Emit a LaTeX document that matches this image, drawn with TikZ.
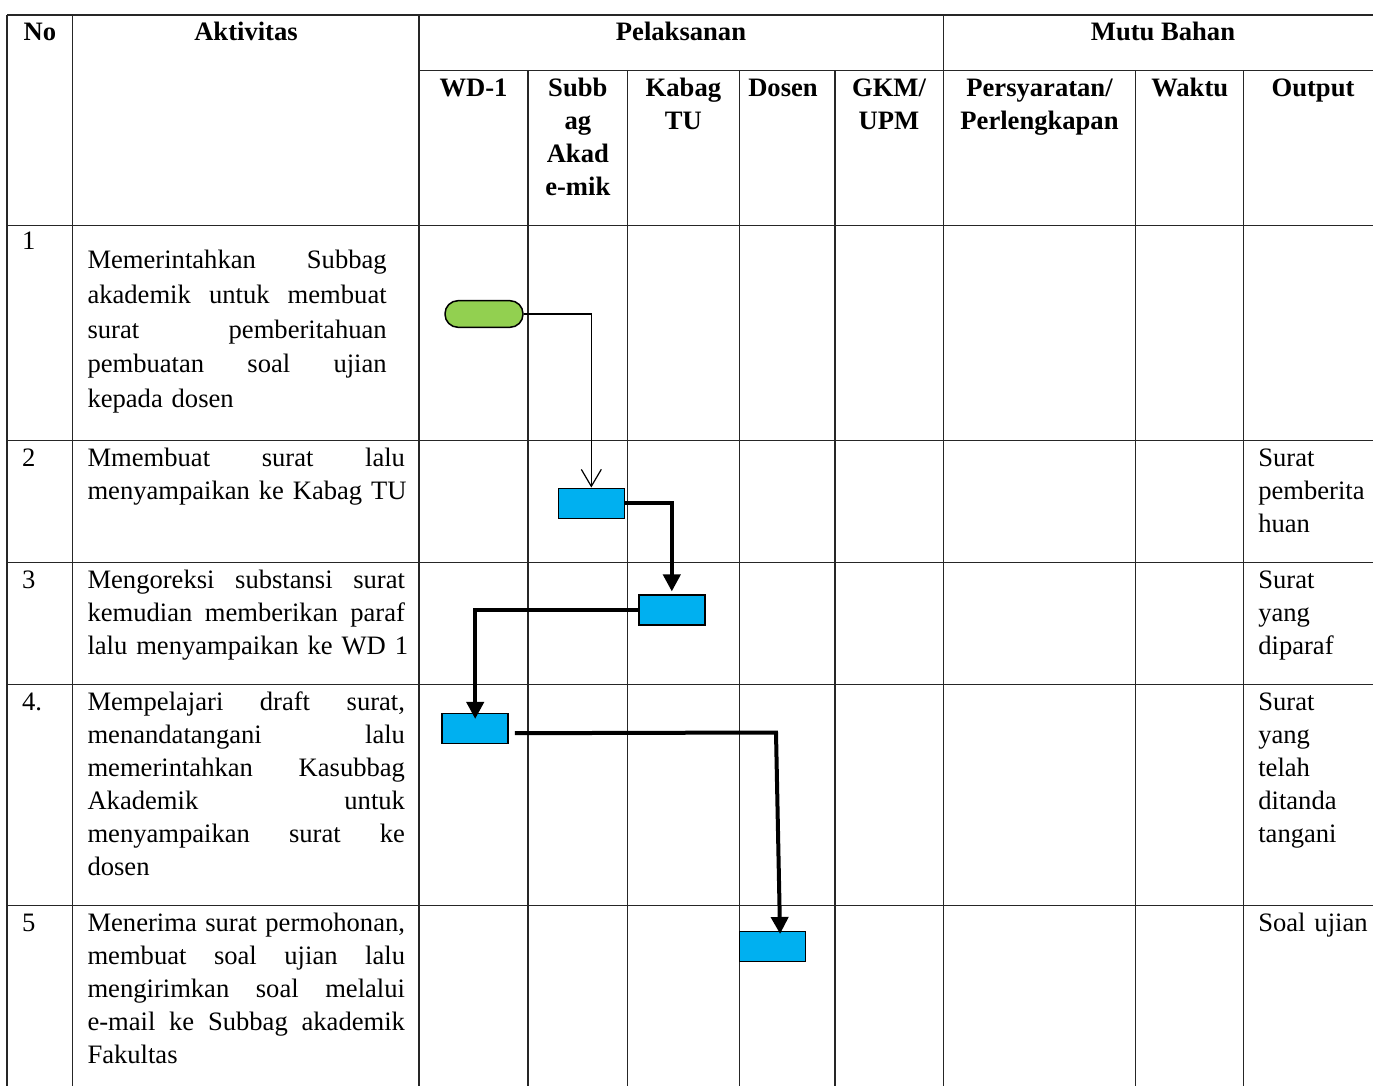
\documentclass[tikz,border=0pt]{standalone}
\usepackage{fontspec}
\setmainfont{Liberation Serif}
\usetikzlibrary{arrows.meta}
\definecolor{termgreen}{HTML}{92D050}
\definecolor{boxcyan}{HTML}{00B0F0}
\newcommand{\jfill}[1]{\leavevmode\hbox to\linewidth{#1}}
\begin{document}
\begin{tikzpicture}[x=1pt,y=-1pt,
  grid/.style={line width=1.4pt, draw=black!85},
  txt/.style={font=\fontsize{26.6}{33}\selectfont, inner sep=0pt, outer sep=0pt},
  hdr/.style={inner sep=0pt, outer sep=0pt, font=\fontsize{26.6}{33}\selectfont\bfseries},
  actv/.style={txt, text width=317.5pt, align=left, anchor=base west},
  outp/.style={txt, text width=120pt, align=left, anchor=base west},
  numb/.style={txt, anchor=base west},
  startnode/.style={draw=black, line width=1.5pt, fill=termgreen, rounded corners=13pt,
    minimum width=78pt, minimum height=26.6pt, inner sep=0pt},
  procbox/.style={draw=black, line width=1.5pt, fill=boxcyan,
    minimum width=66pt, minimum height=30pt, inner sep=0pt},
  thinarrow/.style={draw=black, line width=1.2pt, -{Straight Barb[length=17pt,width=20pt]}},
  thickarrow/.style={draw=black, line width=4pt, -{Triangle[length=17pt,width=17pt]}}
]
\useasboundingbox (0,0) rectangle (1373,1086);
\fill[white] (0,0) rectangle (1373,1086);

% ---- grid ----
\draw[grid] (7,15) -- (1373,15);
\draw[grid] (419,70.7) -- (1373,70.7);
\foreach \yy in {225.7,440.5,562.5,684.5,905.7} \draw[grid] (7,\yy) -- (1373,\yy);
\foreach \xx in {7,72.7,419,943.3} \draw[grid] (\xx,15) -- (\xx,1086);
\foreach \xx in {528,627.5,739.3,835,1135.7,1243.7} \draw[grid] (\xx,70.7) -- (\xx,1086);

% ---- headers ----
\node[hdr, anchor=base] (hno) at (39.9,40.7) {No};
\node[hdr, anchor=base] (hakt) at (246,40.7) {Aktivitas};
\node[hdr, anchor=base] (hpel) at (681,40.7) {Pelaksanan};
\node[hdr, anchor=base] (hmutu) at (1163,40.7) {Mutu Bahan};
\node[hdr, anchor=base] (hwd) at (473.5,96.5) {WD-1};
\node[hdr, anchor=base, text width=95pt, align=center] (hsub) at (577.8,96.5) {Subb\\ag\\Akad\\e-mik};
\node[hdr, anchor=base, text width=105pt, align=center] (hkab) at (683.4,96.5) {Kabag\\TU};
\node[hdr, anchor=base] (hdos) at (783,96.5) {Dosen};
\node[hdr, anchor=base, text width=105pt, align=center] (hgkm) at (889,96.5) {GKM/\\UPM};
\node[hdr, anchor=base, text width=190pt, align=center] (hper) at (1039.5,96.5) {Persyaratan/\\Perlengkapan};
\node[hdr, anchor=base] (hwak) at (1189.7,96.5) {Waktu};
\node[hdr, anchor=base] (hout) at (1313,96.5) {Output};

% ---- numbers ----
\node[numb] (n1) at (22,249.3) {1};
\node[numb] (n2) at (22,466.7) {2};
\node[numb] (n3) at (22,588.3) {3};
\node[numb] (n4) at (22,710.7) {4.};
\node[numb] (n5) at (22,931.7) {5};

% ---- activities ----
\node[actv, text width=299.2pt, font=\fontsize{26.6}{34.7}\selectfont] (a1) at (87.5,268.7)
 {\jfill{Memerintahkan\hfill Subbag}\\
  \jfill{akademik\hfill untuk\hfill membuat}\\
  \jfill{surat\hfill pemberitahuan}\\
  \jfill{pembuatan\hfill soal\hfill ujian}\\
  \mbox{kepada dosen}};
\node[actv] (a2) at (87.5,466.7)
 {\jfill{Mmembuat\hfill surat\hfill lalu}\\
  \mbox{menyampaikan ke Kabag TU}};
\node[actv] (a3) at (87.5,588.3)
 {\jfill{Mengoreksi\hfill substansi\hfill surat}\\
  \jfill{kemudian\hfill memberikan\hfill paraf}\\
  \mbox{lalu menyampaikan ke WD 1}};
\node[actv] (a4) at (87.5,710.7)
 {\jfill{Mempelajari\hfill draft\hfill surat,}\\
  \jfill{menandatangani\hfill lalu}\\
  \jfill{memerintahkan\hfill Kasubbag}\\
  \jfill{Akademik\hfill untuk}\\
  \jfill{menyampaikan\hfill surat\hfill ke}\\
  \mbox{dosen}};
\node[actv] (a5) at (87.5,931.7)
 {\jfill{Menerima\hfill surat\hfill permohonan,}\\
  \jfill{membuat\hfill soal\hfill ujian\hfill lalu}\\
  \jfill{mengirimkan\hfill soal\hfill melalui}\\
  \jfill{e-mail\hfill ke\hfill Subbag\hfill akademik}\\
  \mbox{Fakultas}};

% ---- outputs ----
\node[outp] (o2) at (1258.3,466.7) {Surat\\pemberita\\huan};
\node[outp] (o3) at (1258.3,588.3) {Surat\\yang\\diparaf};
\node[outp] (o4) at (1258.3,710.7) {Surat\\yang\\telah\\ditanda\\tangani};
\node[outp] (o5) at (1258.3,931.7) {Soal ujian};

% ---- flow shapes ----
\node[startnode] (s) at (484,314) {};
\node[procbox] (b2) at (591.3,503.3) {};
\node[procbox] (b3) at (671.8,610.2) {};
\node[procbox] (b4) at (475.2,728.7) {};
\node[procbox] (b5) at (772.5,946.7) {};
\coordinate (c4) at (776,732.5);

% ---- connectors ----
\draw[thinarrow] (s.east) -| (b2.north);
\draw[thickarrow, shorten >=3pt] (b2.east) -| (b3.north);
\draw[thickarrow, shorten >=-6pt] (b3.west) -| (b4.north);
\draw[thickarrow, shorten >=-3pt] ([xshift=6pt,yshift=-4.5pt]b4.east) -- (c4) -- ([xshift=7.5pt]b5.north);
\end{tikzpicture}
\end{document}
